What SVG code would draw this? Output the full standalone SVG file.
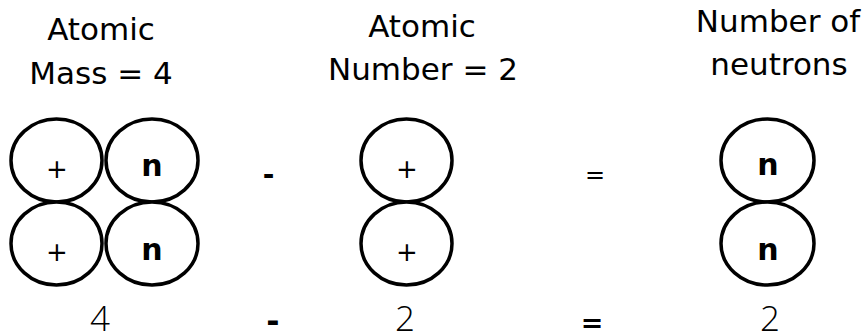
<svg xmlns="http://www.w3.org/2000/svg" width="867" height="333" viewBox="0 0 867 333">
<style>
.bg{fill:#ffffff}
.p{fill:#ffffff;stroke:#000000;stroke-width:3.5}
.lbl{font-family:"DejaVu Sans",Verdana,sans-serif;font-size:31px;fill:#000;text-anchor:middle}
.plus{font-family:"DejaVu Sans",Verdana,sans-serif;font-size:26px;fill:#000;text-anchor:middle}
.n{font-family:"DejaVu Sans",Verdana,sans-serif;font-size:30px;font-weight:bold;fill:#000;text-anchor:middle}
.num{font-family:"Open Sans","DejaVu Sans",sans-serif;font-weight:300;font-size:35px;fill:#000;text-anchor:middle}
.op{font-family:"DejaVu Sans",Verdana,sans-serif;fill:#000;text-anchor:middle}
</style>
<rect class="bg" x="0" y="0" width="867" height="333"/>
<g id="helium">
<text class="lbl" x="101" y="40">Atomic</text>
<text class="lbl" x="101" y="84">Mass = 4</text>
<ellipse class="p" cx="56.5" cy="160.5" rx="45.5" ry="41.5"/>
<ellipse class="p" cx="152" cy="160.5" rx="46" ry="41.5"/>
<ellipse class="p" cx="56.5" cy="243.5" rx="45.5" ry="41.5"/>
<ellipse class="p" cx="152" cy="243.5" rx="46" ry="41.5"/>
<text class="plus" x="57" y="177.5">+</text>
<text class="n" x="152" y="176">n</text>
<text class="plus" x="57" y="260.5">+</text>
<text class="n" x="152" y="260">n</text>
<text class="num" x="100" y="331">4</text>
</g>
<g id="protons">
<text class="lbl" x="422" y="37">Atomic</text>
<text class="lbl" x="423" y="80">Number = 2</text>
<ellipse class="p" cx="406.5" cy="160.5" rx="45.5" ry="41.5"/>
<ellipse class="p" cx="406.5" cy="243.5" rx="45.5" ry="41.5"/>
<text class="plus" x="407" y="177.5">+</text>
<text class="plus" x="407" y="260.5">+</text>
<text class="num" x="405" y="331">2</text>
</g>
<g id="neutrons">
<text class="lbl" x="778" y="32">Number of</text>
<text class="lbl" x="779" y="75">neutrons</text>
<ellipse class="p" cx="767.5" cy="160.5" rx="46.5" ry="41.5"/>
<ellipse class="p" cx="767.5" cy="243.5" rx="46.5" ry="41.5"/>
<text class="n" x="768" y="175">n</text>
<text class="n" x="768" y="260">n</text>
<text class="num" x="770" y="331">2</text>
</g>
<g id="operators">
<text class="op" x="268.5" y="184" font-size="28" font-weight="bold">-</text>
<text class="op" x="595" y="183" font-size="24">=</text>
<text class="op" x="273" y="331.5" font-size="32" font-weight="bold">-</text>
<text class="op" x="592" y="331.5" font-size="27" font-weight="bold">=</text>
</g>
</svg>
